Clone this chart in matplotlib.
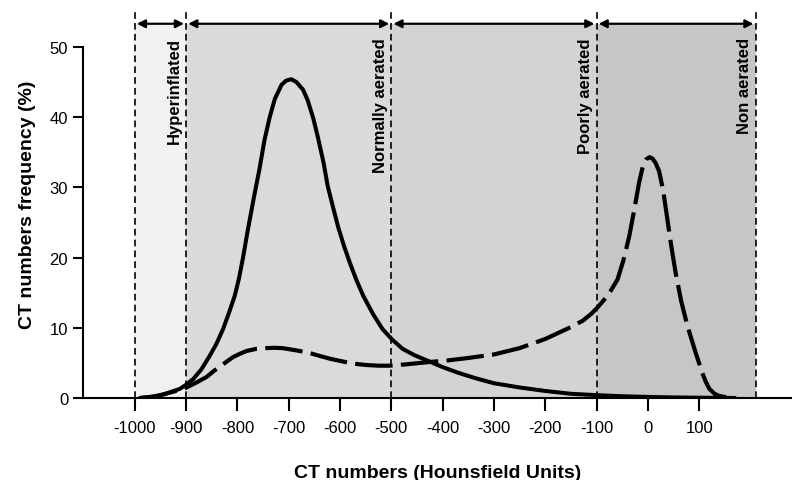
import numpy as np
import matplotlib.pyplot as plt
from matplotlib.patches import Rectangle

plt.rcParams['font.family'] = ['Liberation Sans', 'DejaVu Sans']

# zone boundaries (HU) and names
bounds = [-1000, -900, -500, -100, 210]
zone_names = ['Hyperinflated', 'Normally aerated', 'Poorly aerated', 'Non aerated']
zone_colors = ['#f1f1f1', '#dadada', '#d3d3d3', '#c6c6c6']

# solid curve
hu_solid = [-990, -960, -940, -912, -900, -886, -870, -854, -841, -828, -817, -805,
            -797, -789, -780, -768, -757, -747, -737, -727, -714, -705, -695, -685,
            -672, -663, -652, -643, -632, -624, -613, -603, -592, -581, -568, -555,
            -536, -517, -498, -478, -455, -429, -400, -370, -335, -300, -250, -200,
            -150, -100, -50, 0, 50, 100, 170]
freq_solid = [0.0, 0.2, 0.6, 1.3, 1.9, 2.7, 4.1, 6.0, 7.7, 9.8, 12.0, 14.6,
              17.0, 20.0, 23.8, 28.5, 32.6, 36.8, 40.0, 42.6, 44.6, 45.2, 45.4, 45.0,
              43.9, 42.4, 39.8, 37.1, 33.5, 30.2, 27.0, 24.2, 21.6, 19.3, 16.8, 14.6,
              12.0, 9.8, 8.3, 7.0, 6.1, 5.3, 4.4, 3.6, 2.8, 2.1, 1.5, 1.0,
              0.6, 0.4, 0.25, 0.15, 0.08, 0.04, 0.0]

# dashed curve
hu_dash = [-990, -970, -950, -920, -899, -880, -860, -845, -828, -809, -795, -782,
           -763, -744, -728, -712, -695, -679, -659, -640, -620, -601, -575, -549,
           -525, -504, -470, -429, -390, -350, -300, -250, -200, -172, -150, -127,
           -110, -98, -85, -72, -59, -48, -36, -26, -17, -10, -3, 3, 9, 15,
           22, 30, 38, 46, 54, 65, 77, 93, 106, 113, 120, 130, 139, 153]
freq_dash = [0.0, 0.15, 0.4, 1.0, 1.5, 2.2, 3.0, 3.9, 4.8, 5.8, 6.3, 6.7,
             7.0, 7.1, 7.15, 7.1, 6.9, 6.7, 6.4, 6.0, 5.6, 5.3, 4.9, 4.7,
             4.6, 4.6, 4.8, 5.1, 5.35, 5.7, 6.2, 7.1, 8.4, 9.35, 10.1, 11.0,
             12.0, 12.9, 14.0, 15.3, 16.9, 19.5, 23.1, 27.0, 30.7, 32.9, 34.0, 34.3, 34.1, 33.5,
             32.3, 29.5, 25.5, 21.5, 17.9, 13.8, 10.3, 6.5, 3.6, 2.3, 1.3, 0.6, 0.3, 0.1]

xticks = list(range(-1000, 101, 100))
yticks = [0, 10, 20, 30, 40, 50]

fig = plt.figure(figsize=(7.92, 4.81), dpi=100)
ax = fig.add_axes([0.1054, 0.1705, 0.8946, 0.8087])
ax.set_xlim(-1100, 281)
ax.set_ylim(0, 55.4)

shade_top = 53.2
arrow_y = 53.3
for i in range(len(zone_names)):
    x0, x1 = bounds[i], bounds[i + 1]
    ax.add_patch(Rectangle((x0, 0), x1 - x0, shade_top, facecolor=zone_colors[i],
                           edgecolor='none', zorder=0))
    ax.annotate('', xy=(x1, arrow_y), xytext=(x0, arrow_y),
                arrowprops=dict(arrowstyle='<|-|>', color='black', lw=1.6,
                                mutation_scale=12, shrinkA=1.5, shrinkB=1.5))
    ax.text(x1 - 22, 51.4, zone_names[i], rotation=90, ha='center', va='top',
            fontsize=12, fontweight='bold')

for b in bounds:
    ax.plot([b, b], [0, 55.4], color='black', lw=1.2, linestyle=(0, (4, 2.5)), zorder=2)

ax.plot(hu_solid, freq_solid, color='black', lw=2.9, zorder=3,
        solid_capstyle='round', solid_joinstyle='round')
ax.plot(hu_dash, freq_dash, color='black', lw=3.0, linestyle=(0, (9, 2)), zorder=3,
        dash_joinstyle='round')

ax.spines['top'].set_visible(False)
ax.spines['right'].set_visible(False)
ax.spines['left'].set_bounds(0, 50)
ax.spines['left'].set_linewidth(1.5)
ax.spines['bottom'].set_linewidth(1.5)

ax.set_xticks(xticks)
ax.set_xticklabels([str(t) for t in xticks])
ax.set_yticks(yticks)
ax.tick_params(axis='x', direction='out', length=9, width=1.5, labelsize=12, pad=7)
ax.tick_params(axis='y', direction='out', length=7, width=1.5, labelsize=12, pad=4)

ax.set_xlabel('CT numbers (Hounsfield Units)', fontsize=14, fontweight='bold', labelpad=21)
ax.set_ylabel('CT numbers frequency (%)', fontsize=14, fontweight='bold', labelpad=10)

fig.savefig('out.png', dpi=100)
